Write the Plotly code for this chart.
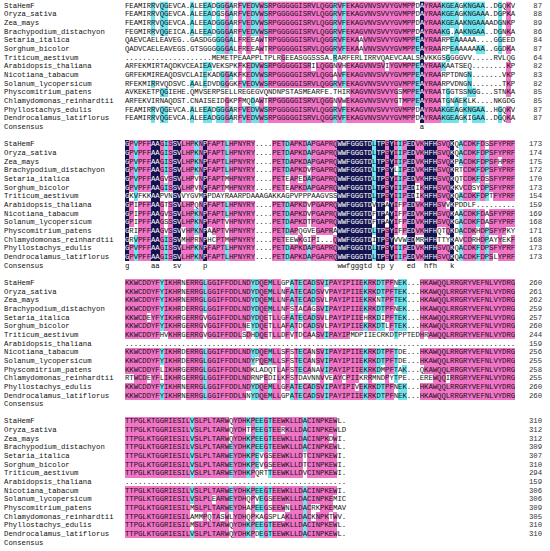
import plotly.graph_objects as go

names = ["StaHemF", "Oryza_sativa", "Zea_mays", "Brachypodium_distachyon",
         "Setaria_italica", "Sorghum_bicolor", "Triticum_aestivum",
         "Arabidopsis_thaliana", "Nicotiana_tabacum", "Solanum_lycopersicum",
         "Physcomitrium_patens", "Chlamydomonas_reinhardtii",
         "Phyllostachys_edulis", "Dendrocalamus_latiflorus"]
consensus_label = "Consensus"

block1 = [
    "FEAMIRRVQGEVCA." + "ALEEADGGGARFVEDVWSRPGGGGGISRVLQGGRVFEKAGVN" + "VSVVYGVMPPDAYRAAKGEAGKNGAA..DGQKV",
    "FEAMIRRVQGEVCA." + "ALEEADGSGARFVEDVWSRPGGGGGISRVLQGGRVFEKAGVN" + "VSVVYGVMPPDAYRAAKGEAGKNGAAA.DGPKA",
    "FEAMIRRVQGEVCA." + "ALEEADGGGARFVEDVWSRPGGGGGISRVLQGGRVFEKAGVN" + "VSVVYGVMPPDAYRAAKGEAAKNGAAAADGNKP",
    "FEGMIRRVQGEICA." + "ALEEADGGGARFVEDVWSRPGGGGGISRVLQGGRVFEKAGVN" + "VSVVYGVMPPDAYRAAKG.AAKNGAA..DGNKA",
    "QAEVCAELEAVEG.." + "GASDGGGGGALFREEAWTRPGGGGGISRVLQGGRVFEKAAVN" + "VSVVYGVMPPEAYRAARPEAAAAA....GGEED",
    "QADVCAELEAVEGS." + "GTSGGGGGGALFREEAWTRPGGGGGISRVLQGGRVFEKAAVN" + "VSVVYGVMPPEAYRAARPEAAAAAAA..GGDKA",
    "..............." + ".....MEMETPEAAPPLTPLRGEEASGGSSSA.RARFERLIR" + "RVQAEVCAALSAVKKGSGGGGVV.....RVLQG",
    "ARFEKMIRTAQDKVC" + "EAIEAVEKSPKFKEDVWSRPGGGGGISRILQGGNVHEKAGVN" + "VSVIYGVMPPEAYRAAKAATSEQ........KP",
    "GRFEKMIREAQDSVC" + "LAIEKADGGAKFKEDVWSRPGGGGGISRVLQGGAVFEKAGVN" + "VSVVYGVMPPEAYRAARPTDNGN.......VKP",
    "RFEKMIRRVQDSVC." + "AALEDVDGGGKFVEDVWSRPGGGGGISRVLQGGRVFEKAGVN" + "VSVVYGVMPPEAYRAARPVDNGN.......TKP",
    "AVKEKETPQGIEHE." + "QMVSERPSELLREGEGVQNDNPSTASMEARFE.THIRKAGVN" + "VSVVYGSMPPEAYRAATGGTSSNGG...STNKA",
    "ARFEKVIRNAQDST." + "CNAISEIDGKPFMQDAWTRPGGGGGISRVLQGGNVWEKAGVN" + "VSVVYGTMPPEAYRAATGNAEKLK....NKGDG",
    "FEAMIRRVQGEVCA." + "ALEEADGGGARFVEDVWSRPGGGGGISRVLQGGRVFEKAGVN" + "VSVVYGVMPPDAYRAAKGEAGKNGAA..HGQKV",
    "FEAMIRRVQGEVCA." + "ALEEADGGGARFVEDVWSRPGGGGGISRVLQGGRVFEKAGVN" + "VSVVYGVMPPDAYRAAKGEAGKIGAA..DGQKA",
]

block2 = [
    "GPVPFFAAGISSVLHPKNPFAPTLHPNYRY" + "...." + "PETDAPKDAPGAPRQ" + "WWFGGGTDLTPSYIIPEDVKHFHSVQKQACDKFDSSFYPRF",
    "GPVPFFAAGISSVLHPKNPFAPTLHPNYRY" + "...." + "PETDAPKDAPGAPRQ" + "WWFGGGTDLTPSYIIPEDVKHFHSVQKQACDKFDPSFYPRF",
    "GPVPFFAAGISSVLHPKNPFAPTLHPNYRY" + "...." + "PETDAPKDAPGAPRQ" + "WWFGGGTDLTPSYIIPEDVKHFHSVQKPACDKFDPSFHPRF",
    "GPVPFFAAGISSVLHPKNPFAPTLHPNYRY" + "...." + "PETDAPKDVPGAPRQ" + "WWFGGGTDLTPSYLIPEDVKHFHSVQKRTCDKFDPSFYPRF",
    "GPVPFFAAGVSSVLHPVNPFAPTMHPNYRY" + "...." + "PETEAPEDAPGAPRQ" + "WWFGGGTDLTPSYIIPEDVKHFHSVQKQTCDKFDSSFYPRF",
    "GPVPFFAAGISSVLHPVNPFAPTMHPNYRY" + "...." + "PETEAPKDAPGAPRQ" + "WWFGGGTDLTPSYIIPEDIKHFHSVQKKVCDSYDPSFYPRF",
    "GKVFKKAAPVNSVVYGVMPP" + "DAYRAARPDAAAGAKKAGPVPPPAAGVSS" + "WWFGGGTDLTPSYIIPEDIKHFHSVQKQACDKFDPTFYPRF",
    "GPIPFFAAGTSSVLHPQNPFAPTLHPNYRY" + "...." + "PETDAPKDVPGAPRQ" + "WWFGGGTDVTPAYIFPEDVKHFHSVVKPDDLF.........",
    "GPIPFFAAGVSSVLHPKNPFAPTLHPNYRY" + "...." + "PETDAPKDVPGAPRQ" + "WWFGGGTDFTPAYIFPEDVKHFHSVQKAACDKFDASFYPRF",
    "GPIPFFAAGSSSVLHPKNPFAPTVHPNYRY" + "...." + "PETDAPKDTPGAPRQ" + "WWFGGGTDFTPAYIFPEDVKHFHSVQKGACDKFDASFYPRF",
    "GRIPFFAAGVSSVVHPKNPAAPTVHPNYRY" + "...." + "PETDAPQGVEGAPRA" + "WWFGGGTDLTPSYIFPEDVKHFHQTQKDACDKHDPSFYPKY",
    "GRVPFFAAGISSVMHPRNPHCPTMHPNYRY" + "...." + "PETEEWKGIPI...Q" + "WWFGGGTDITPSYVVWEDMRHFHTTYKAVCDRHDPAYYEKF",
    "GPVPFFAAGISSVLHPKNPFAPTLHPNYRY" + "...." + "PETDAPKDAPGAPRQ" + "WWFGGGTDLTPSYIIPEDVKHFHSVQKQACDKFDPSFYPRF",
    "GPVPFFAAGISSVLHPKNPFAPTLHPNYRY" + "...." + "PETDAPKDAPGAPRQ" + "WWFGGGTDLTPSYIIPEDVKHFHSVQKQACDKFDPSLYPRF",
]

block3 = [
    "KKWCDDYFYIKHRNERRGLGGIFFDDLNDYDQEMLLGPATECAD" + "SVIPAYIPIIEKRKDTPFNEK...HKAWQQLRRGRYVEFNLVYDRG",
    "KKWCDDYFYIKHRNERRGLGGIFFDDLNDYDQEMLLNFATECAD" + "SVVPAYIPIIEKRKDTPFTEK...HKAWQQLRRGRYVEFNLVYDRG",
    "KKWCDDYFYIKHRNERRGLGGIFFDDLNDYDQEMLLNFATECAD" + "SVLPAYIPIIEKRKNTPFTEK...HKAWQQLRRGRYVEFNLVYDRG",
    "KKWCDDYFYIKHRDERRGLGGIFFDDLNDYDQEMLLNFSTACAG" + "SVIPAYIPIIEKRKDTPFNEK...HKAWQQLRRGRYVEFNLVYDRG",
    "KKWCDEYFYIKHRGERRGVGGIFFDDLNDYDQETLLGFATECAD" + "SVLPAYIPIIEHRKDIPFTEK...HKAWQQLRRGRYVEFNLVYDRG",
    "KKWCDDYFYIKHRGERRGVGGIFFDDLNEYDQETLLAFATDCAD" + "SVLPAYIPIIEKRKDTLFTEK...HKAWQQLRRGRYVEFNLVYDRG",
    "KKWCDDYFHVKHRGERRGVGGIFFDDLSDHDQETLLDFVTDCAA" + "SVIPAYIPMDPIIECRKDTPPTEDHRAWQQLRRGRYVEFNLVYDRG",
    "." * 90,
    "KKWCDDYFYIKHRDERRGLGGIFFDDLNDYDQEMLLSFSTECAN" + "SVIPAYIPIIEKRKDTPFTDE...HKAWQQLRRGRYVEFNLVYDRG",
    "KKWCDDYFYIKHRDERRGLGGIFFDDLNDYPQEMLLSFSTECAN" + "SVIPAYIPIIEKRKDTPFTDE...HKAWQQLRRGRYVEFNLVYDRG",
    "KKWCDDYFLIKHRGERRGLGGIFFDDLNDKLADQTLAFSTECAN" + "AVIPAYIPIIEKRKDMPFTAK...QKAWQQLRRGRYVEFNLVYDRG",
    "RTWCDEYFLIKHRGERRGLGGIFFDDLNDRNPEDILKFSTDAVN" + "NVVEAYCPIIKRRMNDPYTPE...EREWQQIRRGRYVEFNLVYDRG",
    "KKWCDDYFYIKHRNERRGLGGIFFDDLNDYDQEMLLGFATECAD" + "SVIPAYIPIVEKRKDTPFNEK...HKAWQQLRRGRYVEFNLVYDRG",
    "KKWCDDYFYIKHRNERRGLGGIFFDDLNNYDQEMLLGPATECAD" + "SVIPAYIPIIEKRKDTPFNEK...HKAWQQLRRGRYVEFNLVYDRG",
]

block4 = [
    "TTPGLKTGGRIESILVSLPLTARWQYDHKPEEGTEEWKLLDACINPKEWL.",
    "TTPGLKTGGRIESILVSLPLTARWQYDHTPEEGTEERKLLDACINPKEWLD",
    "TTPGLKTGGRIESILVSLPLTARWQYDHKPEEGTEEWKLLDACINPKDWI.",
    "TTPGLKTGGRIESILVSLPLTARWEYDHKPEEGTEEWKLLDACINPKEWL.",
    "TTPGLKTGGRIESILVSLPLTARWEYDHKPEVGSEEWKLLDTCINPKEWI.",
    "TTPGLKTGGRIESILVSLPLTARWEYDHKPEVGSEEWKLLDTCINPKEWI.",
    "TTPGLKTGGRIESILVSLPLTARWEYDHKPQRTTEEWKLLDVCINPKEWI.",
    "." * 51,
    "TTPGLKTGGRIESILVSLPLTARWEYDHKPEEGTEEWKLLDACINPKEWI.",
    "TTPGLKTGGRIESILVSLPLEARWEYDHQPVEGSEEWKLLDACINPKEMIC",
    "TTPGLKTGGRIESILMSLPLTARWEYDHAPEEGSEEWNLLDACRKPKEMAV",
    "TTPGLKTGGRIESILAMMPQTASWLYDHQPKAGSPLAKLLDACKNPKTWV.",
    "TTPGLKTGGRIESILMSLPLTARWQYDHKPEEGTEEWKLLDACINPKEWL.",
    "TTPGLKTGGRIESILVSLPLTARWQYDHKPDEGTEEWKLLDACINPKEWL.",
]

blocks = [block1, block2, block3, block4]
block_widths = [90, 90, 90, 51]

for bi, (blk, w) in enumerate(zip(blocks, block_widths)):
    bad = [(i, len(s)) for i, s in enumerate(blk) if len(s) != w]
    if bad:
        raise ValueError(f"block {bi+1} bad lengths: {bad}")

NAVY = "#13134f"
PINK = "#f274c6"
CYAN = "#6fe4ef"
NSEQ = len(names)
ROWS_PER_BLOCK = 16
NROWS = ROWS_PER_BLOCK * len(blocks)
MAXW = max(block_widths)

z = [[None] * MAXW for _ in range(NROWS)]
tx_b, ty_b, tt_b = [], [], []   # black letters
tx_w, ty_w, tt_w = [], [], []   # white letters (on navy)
cx, cy, ct = [], [], []         # consensus letters
name_x, name_y, name_t = [], [], []
num_x, num_y, num_t = [], [], []

totals = [0] * NSEQ
for bi, (blk, w) in enumerate(zip(blocks, block_widths)):
    base = bi * ROWS_PER_BLOCK
    for c in range(w):
        col = [s[c] for s in blk]
        counts = {}
        for ch in col:
            if ch != ".":
                counts[ch] = counts.get(ch, 0) + 1
        top, n = (None, 0)
        if counts:
            top = max(counts, key=lambda k: counts[k])
            n = counts[top]
        frac = n / NSEQ
        level = 3 if n == NSEQ else (2 if frac >= 0.75 else (1 if frac >= 0.5 else 0))
        for i, ch in enumerate(col):
            r = base + i
            if level and ch == top:
                z[r][c] = level
            if level == 3 and ch == top:
                tx_w.append(c + 0.5); ty_w.append(r); tt_w.append(ch)
            else:
                tx_b.append(c + 0.5); ty_b.append(r); tt_b.append(ch)
        if level == 3:
            cx.append(c + 0.5); cy.append(base + NSEQ); ct.append(top.lower())
    for i, s in enumerate(blk):
        totals[i] += sum(1 for ch in s if ch != ".")
        num_x.append(96.2); num_y.append(base + i); num_t.append(str(totals[i]))
    for i, nm in enumerate(names + [consensus_label]):
        name_x.append(-27.9); name_y.append(base + i); name_t.append(nm)

FONT = "Liberation Mono, Courier New, monospace"
FS = 7.3

fig = go.Figure()
fig.add_trace(go.Heatmap(
    z=z, x=[c + 0.5 for c in range(MAXW)], y=list(range(NROWS)),
    zmin=0.5, zmax=3.5, showscale=False, hoverinfo="skip",
    colorscale=[[0, CYAN], [1/3, CYAN], [1/3, PINK], [2/3, PINK], [2/3, NAVY], [1, NAVY]],
))
fig.add_trace(go.Scatter(x=tx_b, y=ty_b, text=tt_b, mode="text", hoverinfo="skip",
                         textfont=dict(family=FONT, size=FS, color="#111111")))
fig.add_trace(go.Scatter(x=tx_w, y=ty_w, text=tt_w, mode="text", hoverinfo="skip",
                         textfont=dict(family=FONT, size=FS, color="#ffffff")))
fig.add_trace(go.Scatter(x=cx, y=cy, text=ct, mode="text", hoverinfo="skip",
                         textfont=dict(family=FONT, size=FS, color="#111111")))
fig.add_trace(go.Scatter(x=name_x, y=name_y, text=name_t, mode="text",
                         textposition="middle right", hoverinfo="skip",
                         textfont=dict(family=FONT, size=FS, color="#111111")))
fig.add_trace(go.Scatter(x=num_x, y=num_y, text=num_t, mode="text",
                         textposition="middle left", hoverinfo="skip",
                         textfont=dict(family=FONT, size=FS, color="#333333")))

PX_COL = 4.335
PX_ROW = 8.66
fig.update_layout(
    width=550, height=551, margin=dict(l=0, r=0, t=0, b=0),
    paper_bgcolor="white", plot_bgcolor="white", showlegend=False,
    xaxis=dict(range=[-125 / PX_COL, 425 / PX_COL], visible=False, fixedrange=True),
    yaxis=dict(range=[(551 - 6) / PX_ROW, -6 / PX_ROW], visible=False, fixedrange=True),
)
fig.write_html("out.html", config={"displayModeBar": False},
               post_script="document.body.style.margin='0px';document.body.style.overflow='hidden';")
